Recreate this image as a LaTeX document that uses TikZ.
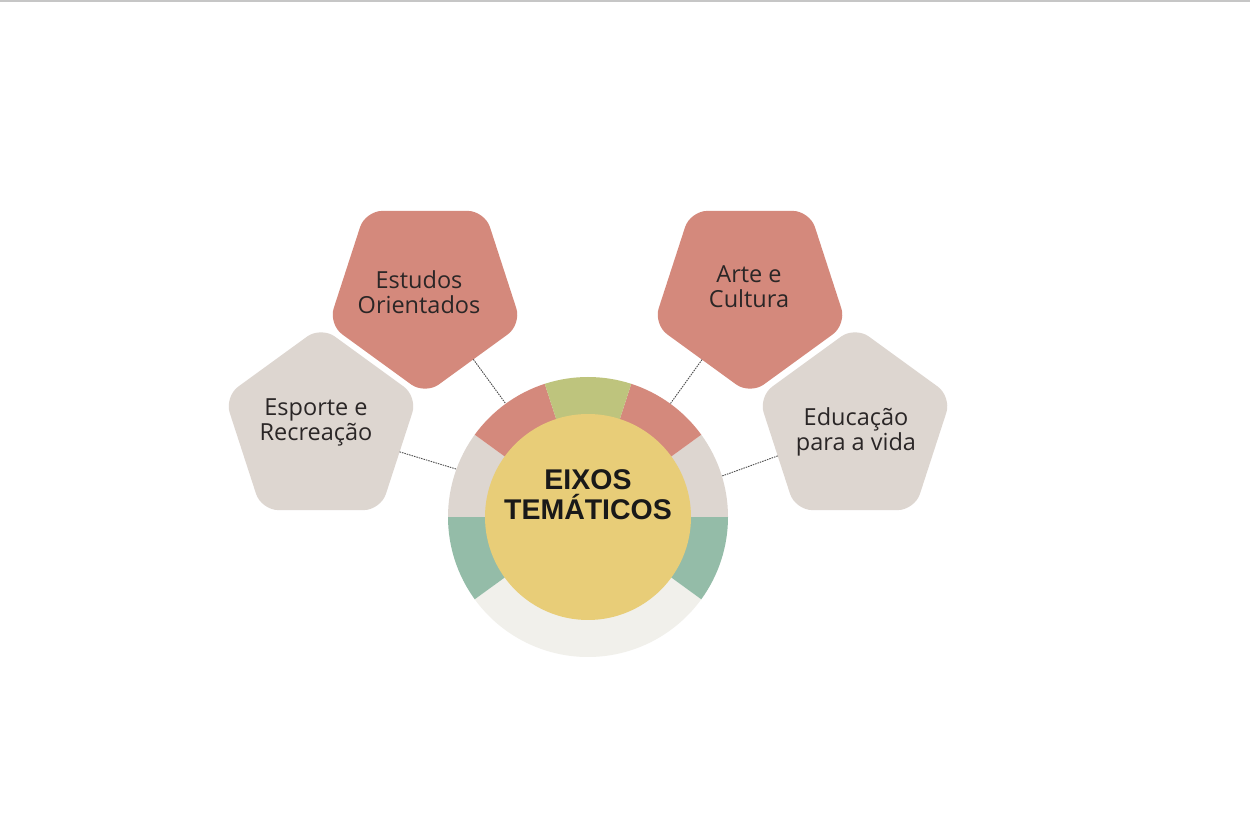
\documentclass[tikz,border=0pt]{standalone}
\usepackage{fontspec}
\setmainfont{Open Sans}
\newfontfamily\titlefont{Liberation Sans}
\usetikzlibrary{shapes.geometric}
\definecolor{salmon}{HTML}{D4897C}
\definecolor{lgray}{HTML}{DDD6D0}
\definecolor{olivegr}{HTML}{BEC47D}
\definecolor{tealgr}{HTML}{94BCA8}
\definecolor{coreyel}{HTML}{E8CD78}
\definecolor{offw}{HTML}{F1F0EB}
\definecolor{ink}{HTML}{2A2626}
\tikzset{
  pent/.style={regular polygon, regular polygon sides=5, minimum size=203pt,
    inner sep=0pt, outer sep=0pt, rounded corners=17pt},
  pentdown/.style={pent, shape border rotate=180},
  lbl/.style={align=center, text=ink, font=\fontsize{23.5}{25}\selectfont, inner sep=0pt},
  conn/.style={draw=black!70, line width=0.9pt, dash pattern=on 1.5pt off 1pt},
}
\begin{document}
\begin{tikzpicture}[x=1pt,y=1pt]
\fill[white] (0,0) rectangle (1250,833);
\useasboundingbox (0,0) rectangle (1250,833);
\draw[gray!45, line width=1.5pt] (0,832.2) -- (1250,832.2);

% pentagons
\node[pentdown, fill=salmon] (estudos) at (425,540) {};
\node[pentdown, fill=salmon] (arte) at (750,540) {};
\node[pent, fill=lgray] (esporte) at (321,405) {};
\node[pent, fill=lgray] (educ) at (855,405) {};

\node[lbl] (estudosT) at ([xshift=-6pt,yshift=1pt]estudos.center) {Estudos\\Orientados};
\node[lbl] (arteT) at ([xshift=-1pt,yshift=6pt]arte.center) {Arte e\\Cultura};
\node[lbl] (esporteT) at ([xshift=-5pt,yshift=6pt]esporte.center) {Esporte e\\Recreação};
\node[lbl] (educT) at ([xshift=1pt,yshift=-4pt]educ.center) {Educação\\para a vida};

% ring
\node[circle, minimum size=280pt, inner sep=0pt, outer sep=0pt] (ring) at (588,316) {};
\begin{scope}[shift={(ring.center)}]
\fill[offw] (0,0) -- (216:140) arc[start angle=216, end angle=324, radius=140] -- cycle;
\fill[tealgr] (0,0) -- (180:140) arc[start angle=180, end angle=216, radius=140] -- cycle;
\fill[tealgr] (0,0) -- (324:140) arc[start angle=324, end angle=360, radius=140] -- cycle;
\fill[lgray] (0,0) -- (144:140) arc[start angle=144, end angle=180, radius=140] -- cycle;
\fill[lgray] (0,0) -- (0:140) arc[start angle=0, end angle=36, radius=140] -- cycle;
\fill[salmon] (0,0) -- (108:140) arc[start angle=108, end angle=144, radius=140] -- cycle;
\fill[salmon] (0,0) -- (36:140) arc[start angle=36, end angle=72, radius=140] -- cycle;
\fill[olivegr] (0,0) -- (72:140) arc[start angle=72, end angle=108, radius=140] -- cycle;
\end{scope}
\node[circle, fill=coreyel, minimum size=206pt, inner sep=0pt] (core) at (ring.center) {};
\node[align=center, text=black!90, font=\titlefont\bfseries\fontsize{28.5}{30}\selectfont, inner sep=0pt]
  (title) at ([yshift=22pt]core.center) {EIXOS\\TEMÁTICOS};

% connectors
\draw[conn] (esporte) -- (ring.160);
\draw[conn] (estudos) -- (ring.126);
\draw[conn] (arte) -- (ring.54);
\draw[conn] (educ) -- (ring.17);
\end{tikzpicture}
\end{document}
